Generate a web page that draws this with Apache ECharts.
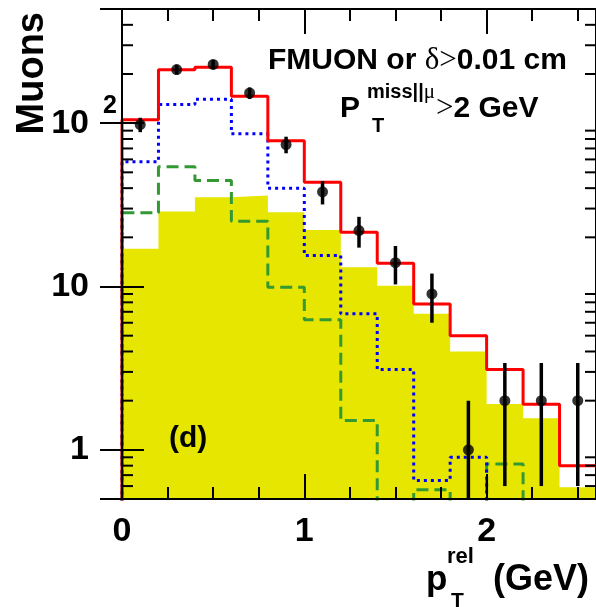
<!DOCTYPE html>
<html>
<head>
<meta charset="utf-8">
<script src="https://cdn.jsdelivr.net/npm/echarts@6/dist/echarts.min.js"></script>
<style>
html, body { margin: 0; padding: 0; background: #fff; }
#main { width: 596px; height: 607px; }
</style>
</head>
<body>
<div id="main"></div>
<script>
// bins of p_T^rel, width 0.2 GeV
var binEdges = [0, 0.2, 0.4, 0.6, 0.8, 1.0, 1.2, 1.4, 1.6, 1.8, 2.0, 2.2, 2.4, 2.6];
var binCenters = [0.1, 0.3, 0.5, 0.7, 0.9, 1.1, 1.3, 1.5, 1.7, 1.9, 2.1, 2.3, 2.5];
// data points and errors
var dataCounts = [98, 213, 229, 153, 74, 38, 22, 14, 9, 1, 2, 2, 2];
var dataErr = [9.9, 14.6, 15.1, 12.4, 8.6, 6.2, 4.7, 3.7, 3.0, 1.0, 1.4, 1.4, 1.4];
// histograms (0 = empty bin)
var totalMC = [105, 212, 220, 146, 78, 43.5, 21.5, 13.9, 7.8, 5.0, 3.1, 1.9, 0.8];
var fillMC = [17, 28.8, 35.2, 36.1, 28.5, 22.2, 13.1, 10.1, 6.8, 4.0, 1.91, 1.56, 0.59];
var blueMC = [58, 130, 140, 86, 40, 15.5, 6.8, 3.1, 0.65, 0.9, 0, 0, 0];
var greenMC = [28.3, 54, 44.6, 25.1, 9.9, 6.25, 1.51, 0, 0.57, 0, 0.82, 0, 0];
// minor log ticks
var minorY = [0.6, 0.7, 0.8, 0.9, 2, 3, 4, 5, 6, 7, 8, 9, 20, 30, 40, 50, 60, 70, 80, 90, 200, 300, 400];

var yMin = 0.5, yMax = 500, xMax = 2.6;
var EMPTY = 0.05; // below the axis, gets clipped
var FONT = '"Liberation Sans", Arial, Helvetica, sans-serif';
var SERIF = '"Liberation Serif", "DejaVu Serif", serif';

function stepData(vals) {
  var pts = [[binEdges[0], EMPTY]];
  for (var i = 0; i < vals.length; i++) {
    pts.push([binEdges[i], vals[i] > 0 ? vals[i] : EMPTY]);
  }
  var last = vals[vals.length - 1];
  pts.push([binEdges[vals.length], last > 0 ? last : EMPTY]);
  return pts;
}

function xAx(pos, interval, len, labels) {
  return {
    type: 'value', min: 0, max: xMax, interval: interval, position: pos, z: 5,
    axisLine: { show: labels, onZero: false, lineStyle: { color: '#000', width: 2 } },
    axisTick: { show: true, inside: true, length: len, lineStyle: { color: '#000', width: 2 } },
    axisLabel: { show: labels, showMaxLabel: false, margin: 16, color: '#000',
      fontSize: 34, fontWeight: 'bold', fontFamily: FONT },
    splitLine: { show: false }
  };
}

function yAx(pos, labels) {
  return {
    type: 'log', logBase: 10, min: yMin, max: yMax, position: pos, z: 5,
    axisLine: { show: true, lineStyle: { color: '#000', width: 2 } },
    axisTick: { show: true, inside: true, length: 22, lineStyle: { color: '#000', width: 2 } },
    axisLabel: {
      show: labels, showMinLabel: false, showMaxLabel: false, margin: 5,
      formatter: function (v) {
        var r = Math.round(v);
        if (r === 100) return '{n|10}{sup|2}';
        return '{n|' + r + '}{sp| }';
      },
      rich: {
        n: { fontSize: 34, fontWeight: 'bold', fontFamily: FONT, color: '#000', lineHeight: 60 },
        sup: { fontSize: 25, fontWeight: 'bold', fontFamily: FONT, color: '#000', lineHeight: 22,
          verticalAlign: 'top', width: 18, padding: [0, 0, 0, 10] },
        sp: { fontSize: 10, width: 28 }
      }
    },
    splitLine: { show: false }
  };
}

function histLine(vals, color, type, z) {
  return {
    type: 'line', step: 'end', data: stepData(vals), symbol: 'none', clip: true, z: z,
    lineStyle: { color: color, width: 3, type: type }, silent: true
  };
}

var chart = echarts.init(document.getElementById('main'));

var option = {
  animation: false,
  backgroundColor: '#fff',
  grid: { left: 122, right: 0, top: 9, bottom: 108, show: true, borderColor: '#000', borderWidth: 2,
    outerBoundsMode: 'none' },
  xAxis: [
    xAx('bottom', 1, 25, true),
    xAx('bottom', 0.25, 12, false),
    xAx('top', 1, 25, false),
    xAx('top', 0.25, 12, false)
  ],
  yAxis: [yAx('left', true), yAx('right', false)],
  series: [
    {
      type: 'line', step: 'end', data: stepData(fillMC), symbol: 'none', clip: true, z: 1, silent: true,
      lineStyle: { width: 0 },
      areaStyle: { color: '#e6e600', opacity: 1, origin: 'start' }
    },
    histLine(greenMC, '#339933', [12, 6], 3),
    histLine(blueMC, '#0000ff', [3, 4], 3),
    histLine(totalMC, '#ff0000', 'solid', 4),
    {
      type: 'custom', clip: true, z: 6, silent: true,
      data: binCenters.map(function (x, i) { return [x, dataCounts[i], dataErr[i]]; }),
      renderItem: function (params, api) {
        var x = api.value(0), y = api.value(1), e = api.value(2);
        var p1 = api.coord([x, y + e]);
        var p2 = api.coord([x, Math.max(y - e, EMPTY)]);
        return { type: 'line', shape: { x1: p1[0], y1: p1[1], x2: p2[0], y2: p2[1] },
          style: { stroke: '#000', lineWidth: 3.5 } };
      }
    },
    {
      type: 'scatter', z: 7, symbol: 'circle', symbolSize: 11, silent: true,
      itemStyle: { color: '#000' },
      data: binCenters.map(function (x, i) { return [x, dataCounts[i]]; })
    },
    {
      type: 'custom', z: 8, silent: true,
      data: minorY.map(function (v) { return [0, v]; }),
      renderItem: function (params, api) {
        var v = api.value(1);
        var l = api.coord([0, v]);
        var r = api.coord([xMax, v]);
        return { type: 'group', children: [
          { type: 'line', shape: { x1: l[0], y1: l[1], x2: l[0] + 11, y2: l[1] }, style: { stroke: '#000', lineWidth: 2 } },
          { type: 'line', shape: { x1: r[0] - 11, y1: r[1], x2: r[0], y2: r[1] }, style: { stroke: '#000', lineWidth: 2 } }
        ] };
      }
    }
  ],
  graphic: [
    { type: 'text', x: 33, y: 12, rotation: Math.PI / 2, z: 10,
      style: { text: 'Muons', fill: '#000', fontSize: 38, fontWeight: 'bold', fontFamily: FONT,
        align: 'right', verticalAlign: 'middle' } },
    { type: 'text', x: 268, y: 61, z: 10,
      style: { text: '{b|FMUON or }{s|δ>}{b|0.01 cm}', verticalAlign: 'middle',
        rich: {
          b: { fill: '#000', fontSize: 30, fontWeight: 'bold', fontFamily: FONT, lineHeight: 34 },
          s: { fill: '#000', fontSize: 31, fontFamily: SERIF, lineHeight: 34 }
        } } },
    { type: 'text', x: 340, y: 109, z: 10,
      style: { text: 'P', fill: '#000', fontSize: 30, fontWeight: 'bold', fontFamily: FONT, verticalAlign: 'middle' } },
    { type: 'text', x: 367, y: 92, z: 10,
      style: { text: '{b|miss||}{s|μ}', verticalAlign: 'middle',
        rich: {
          b: { fill: '#000', fontSize: 20, fontWeight: 'bold', fontFamily: FONT, lineHeight: 24 },
          s: { fill: '#000', fontSize: 21, fontFamily: SERIF, lineHeight: 24 }
        } } },
    { type: 'text', x: 372, y: 126, z: 10,
      style: { text: 'T', fill: '#000', fontSize: 20, fontWeight: 'bold', fontFamily: FONT, verticalAlign: 'middle' } },
    { type: 'text', x: 436, y: 109, z: 10,
      style: { text: '{s|>}{b|2 GeV}', verticalAlign: 'middle',
        rich: {
          b: { fill: '#000', fontSize: 30, fontWeight: 'bold', fontFamily: FONT, lineHeight: 34 },
          s: { fill: '#000', fontSize: 31, fontFamily: SERIF, lineHeight: 34 }
        } } },
    { type: 'text', x: 169, y: 439, z: 10,
      style: { text: '(d)', fill: '#000', fontSize: 30, fontWeight: 'bold', fontFamily: FONT, verticalAlign: 'middle' } },
    { type: 'text', x: 426, y: 580, z: 10,
      style: { text: 'p', fill: '#000', fontSize: 35, fontWeight: 'bold', fontFamily: FONT, verticalAlign: 'middle' } },
    { type: 'text', x: 447, y: 557, z: 10,
      style: { text: 'rel', fill: '#000', fontSize: 22, fontWeight: 'bold', fontFamily: FONT, verticalAlign: 'middle' } },
    { type: 'text', x: 451, y: 601, z: 10,
      style: { text: 'T', fill: '#000', fontSize: 21, fontWeight: 'bold', fontFamily: FONT, verticalAlign: 'middle' } },
    { type: 'text', x: 493, y: 580, z: 10,
      style: { text: '(GeV)', fill: '#000', fontSize: 36, fontWeight: 'bold', fontFamily: FONT, verticalAlign: 'middle' } }
  ]
};

chart.setOption(option);
</script>
</body>
</html>
